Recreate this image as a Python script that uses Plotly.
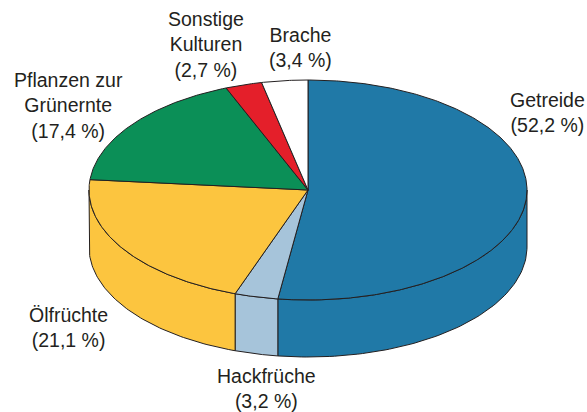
import numpy as np
import plotly.graph_objects as go

# ---- data ----
labels = ["Getreide", "Hackfrüche", "Ölfrüchte", "Pflanzen zur<br>Grünernte", "Sonstige<br>Kulturen", "Brache"]
values = [52.2, 3.2, 21.1, 17.4, 2.7, 3.4]
value_text = ["52,2", "3,2", "21,1", "17,4", "2,7", "3,4"]
colors = ["#2079a7", "#a6c4da", "#fcc53f", "#0b8f57", "#e41f2a", "#ffffff"]

# label placement (text positions, px)
label_x = [547, 266, 68, 68, 206, 300]
label_y = [112, 388, 327, 105, 44, 47]

# ---- geometry of the 3D pie (pixel frame) ----
W, H = 587, 412
cx, cy = 308, 190
rx, ry = 219, 110
depth = 57
edge = "#231f20"

fig = go.Figure()

total = sum(values)
bounds = np.concatenate([[0], np.cumsum(values) / total * 360.0])


def top_pt(theta_deg):
    t = np.radians(theta_deg)
    return cx + rx * np.sin(t), cy - ry * np.cos(t)


# side walls (front half: theta in [90, 270])
for i, v in enumerate(values):
    a0, a1 = bounds[i], bounds[i + 1]
    s0, s1 = max(a0, 90), min(a1, 270)
    if s1 <= s0:
        continue
    th = np.linspace(s0, s1, 80)
    xt, yt = top_pt(th)
    xs = np.concatenate([xt, xt[::-1], xt[:1]])
    ys = np.concatenate([yt, (yt + depth)[::-1], yt[:1]])
    fig.add_trace(go.Scatter(x=xs, y=ys, mode="lines", fill="toself",
                             fillcolor=colors[i], line=dict(color=edge, width=1),
                             hoverinfo="skip", showlegend=False))

# top faces
for i, v in enumerate(values):
    a0, a1 = bounds[i], bounds[i + 1]
    th = np.linspace(a0, a1, max(10, int((a1 - a0) * 2)))
    xt, yt = top_pt(th)
    xs = np.concatenate([[cx], xt, [cx]])
    ys = np.concatenate([[cy], yt, [cy]])
    fig.add_trace(go.Scatter(x=xs, y=ys, mode="lines", fill="toself",
                             fillcolor=colors[i], line=dict(color=edge, width=1),
                             hoverinfo="skip", showlegend=False))

# labels
for lab, vt, lx, ly in zip(labels, value_text, label_x, label_y):
    fig.add_annotation(x=lx, y=ly, text=f"{lab}<br>({vt} %)", showarrow=False,
                       xanchor="center", yanchor="middle", align="center",
                       font=dict(family="Liberation Sans, Arial, sans-serif", size=19.5, color=edge))

fig.update_layout(
    width=W, height=H,
    margin=dict(l=0, r=0, t=0, b=0),
    paper_bgcolor="white", plot_bgcolor="white",
    xaxis=dict(range=[0, W], visible=False, fixedrange=True),
    yaxis=dict(range=[H, 0], visible=False, fixedrange=True),
    showlegend=False,
)

fig.write_html("out.html", config={"displayModeBar": False},
               post_script="document.body.style.margin='0';document.body.style.overflow='hidden';")
